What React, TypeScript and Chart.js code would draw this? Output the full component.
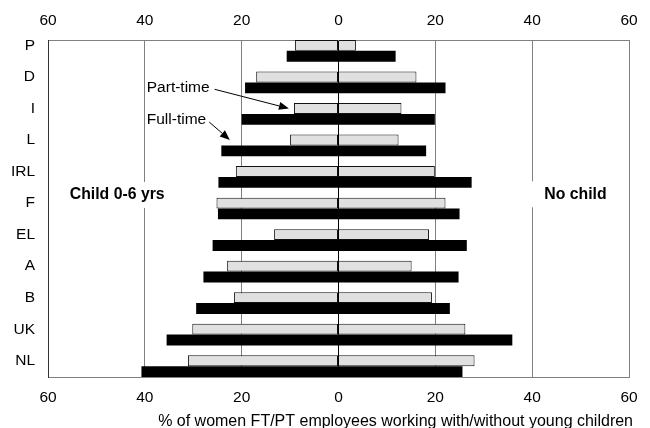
import React, { useEffect, useRef } from "react";
import { Chart, registerables } from "chart.js";

Chart.register(...registerables);

const categories = ["P", "D", "I", "L", "IRL", "F", "EL", "A", "B", "UK", "NL"];
const partTimeChild = [9.0, 17.0, 9.2, 10.0, 21.2, 25.2, 13.3, 23.0, 21.6, 30.2, 31.1];
const fullTimeChild = [10.7, 19.3, 20.0, 24.2, 24.8, 24.9, 26.0, 27.9, 29.4, 35.5, 40.7];
const partTimeNoChild = [3.6, 16.1, 13.0, 12.4, 19.9, 22.1, 18.7, 15.1, 19.3, 26.2, 28.1];
const fullTimeNoChild = [11.8, 22.1, 19.9, 18.1, 27.5, 25.0, 26.5, 24.8, 23.0, 35.9, 25.6];
const xTickValues = [-60, -40, -20, 0, 20, 40, 60];
const axisTitle = "% of women FT/PT employees working with/without young children";

const FONT = '"Liberation Sans", Arial, sans-serif';
const FS = 15.5;

function drawArrow(ctx: CanvasRenderingContext2D, x1: number, y1: number, x2: number, y2: number) {
  const ang = Math.atan2(y2 - y1, x2 - x1);
  const len = 10;
  const hw = 4;
  const bx = x2 - len * Math.cos(ang);
  const by = y2 - len * Math.sin(ang);
  ctx.strokeStyle = "#000";
  ctx.lineWidth = 1;
  ctx.beginPath();
  ctx.moveTo(x1, y1);
  ctx.lineTo(bx, by);
  ctx.stroke();
  ctx.fillStyle = "#000";
  ctx.beginPath();
  ctx.moveTo(x2, y2);
  ctx.lineTo(bx + hw * Math.sin(ang), by - hw * Math.cos(ang));
  ctx.lineTo(bx - hw * Math.sin(ang), by + hw * Math.cos(ang));
  ctx.closePath();
  ctx.fill();
}

const annotations = {
  id: "annotations",
  afterDatasetsDraw(chart: any) {
    const ctx: CanvasRenderingContext2D = chart.ctx;
    const xs = chart.scales.x;
    const ys = chart.scales.y;
    ctx.save();
    ctx.textBaseline = "middle";
    ctx.textAlign = "left";

    ctx.font = `bold 15.8px ${FONT}`;
    const boxed = (text: string, vx: number, vy: number, padL: number, padR: number) => {
      const px = xs.getPixelForValue(vx);
      const py = ys.getPixelForValue(vy);
      const w = ctx.measureText(text).width;
      ctx.fillStyle = "#fff";
      ctx.fillRect(px - padL, py - 13, w + padL + padR, 26);
      ctx.fillStyle = "#000";
      ctx.fillText(text, px, py);
    };
    boxed("Child 0-6 yrs", -55.5, 4.57, 6, 8);
    boxed("No child", 42.5, 4.55, 14, 6);

    ctx.font = `${FS}px ${FONT}`;
    ctx.fillStyle = "#000";
    const ptX = xs.getPixelForValue(-39.6);
    const ptY = ys.getPixelForValue(1.156);
    ctx.fillText("Part-time", ptX, ptY);
    const ptW = ctx.measureText("Part-time").width;
    const ptBar = chart.getDatasetMeta(0).data[2];
    drawArrow(ctx, ptX + ptW + 5, ptY + 2, ptBar.x - 5, ptBar.y);

    const ftX = xs.getPixelForValue(-39.6);
    const ftY = ys.getPixelForValue(2.193);
    ctx.fillText("Full-time", ftX, ftY);
    const ftW = ctx.measureText("Full-time").width;
    const ftBar = chart.getDatasetMeta(1).data[3];
    drawArrow(ctx, ftX + ftW + 3, ftY + 2, ftBar.x + 8.5, ftBar.y - ftBar.height / 2 - 5.5);

    ctx.font = `16px ${FONT}`;
    ctx.textAlign = "right";
    ctx.textBaseline = "alphabetic";
    ctx.fillText(axisTitle, chart.width - 17, chart.height - 2.5);
    ctx.restore();
  },
};

export default function App() {
  const ref = useRef<HTMLCanvasElement | null>(null);

  useEffect(() => {
    document.body.style.margin = "0";
    if (!ref.current) return;
    const mk = (vals: number[], sign: number) => vals.map((v, i) => ({ x: sign * v, y: i }));
    const ptStyle = {
      backgroundColor: "#e0e0e0",
      borderColor: "#111",
      borderWidth: 1,
      stack: "pt",
    };
    const ftStyle = {
      backgroundColor: "#000",
      borderWidth: 0,
      stack: "ft",
    };
    const half = 0.344;
    const chart = new Chart(ref.current, {
      type: "bar",
      data: {
        datasets: [
          { label: "Part-time child", data: mk(partTimeChild, -1), ...ptStyle, borderSkipped: false } as any,
          { label: "Full-time child", data: mk(fullTimeChild, -1), ...ftStyle } as any,
          { label: "Part-time no child", data: mk(partTimeNoChild, 1), ...ptStyle, borderSkipped: "start" } as any,
          { label: "Full-time no child", data: mk(fullTimeNoChild, 1), ...ftStyle } as any,
        ],
      },
      options: {
        indexAxis: "y",
        responsive: false,
        animation: false,
        devicePixelRatio: 1,
        categoryPercentage: 0.689,
        barPercentage: 1,
        layout: { padding: { left: 0, right: 21, top: 0, bottom: 0 } },
        plugins: { legend: { display: false }, tooltip: { enabled: false } },
        scales: {
          x: {
            type: "linear",
            position: "bottom",
            min: -60,
            max: 60,
            afterBuildTicks: (s: any) => {
              s.ticks = xTickValues.map((v) => ({ value: v }));
            },
            afterFit: (s: any) => {
              s.height = 51;
            },
            ticks: {
              padding: 11,
              color: "#000",
              font: { family: FONT, size: FS },
              callback: (v: any) => String(Math.abs(Number(v))),
              maxRotation: 0,
            },
            grid: {
              drawTicks: false,
              color: (c: any) => (c.tick && c.tick.value === 0 ? "#000" : "#808080"),
              lineWidth: 1,
            },
            border: { display: true, color: "#808080" },
          },
          x2: {
            type: "linear",
            position: "top",
            min: -60,
            max: 60,
            afterBuildTicks: (s: any) => {
              s.ticks = xTickValues.map((v) => ({ value: v }));
            },
            afterFit: (s: any) => {
              s.height = 40;
            },
            ticks: {
              padding: 10,
              color: "#000",
              font: { family: FONT, size: FS },
              callback: (v: any) => String(Math.abs(Number(v))),
              maxRotation: 0,
            },
            grid: { display: false, drawTicks: false },
            border: { display: true, color: "#808080" },
          },
          y: {
            type: "linear",
            position: "left",
            reverse: true,
            offset: false,
            min: -half,
            max: categories.length - 1 + half,
            afterBuildTicks: (s: any) => {
              s.ticks = categories.map((_, i) => ({ value: i - 0.17 }));
            },
            afterFit: (s: any) => {
              s.width = 48;
            },
            ticks: {
              padding: 13,
              color: "#000",
              autoSkip: false,
              font: { family: FONT, size: FS },
              callback: (_v: any, i: number) => categories[i],
            },
            grid: { display: false, drawTicks: false, offset: false },
            border: { display: true, color: "#333" },
          },
        },
      } as any,
      plugins: [annotations],
    });
    return () => chart.destroy();
  }, []);

  return (
    <div style={{ width: 650, height: 428, background: "#fff" }}>
      <canvas ref={ref} width={650} height={428} />
    </div>
  );
}
